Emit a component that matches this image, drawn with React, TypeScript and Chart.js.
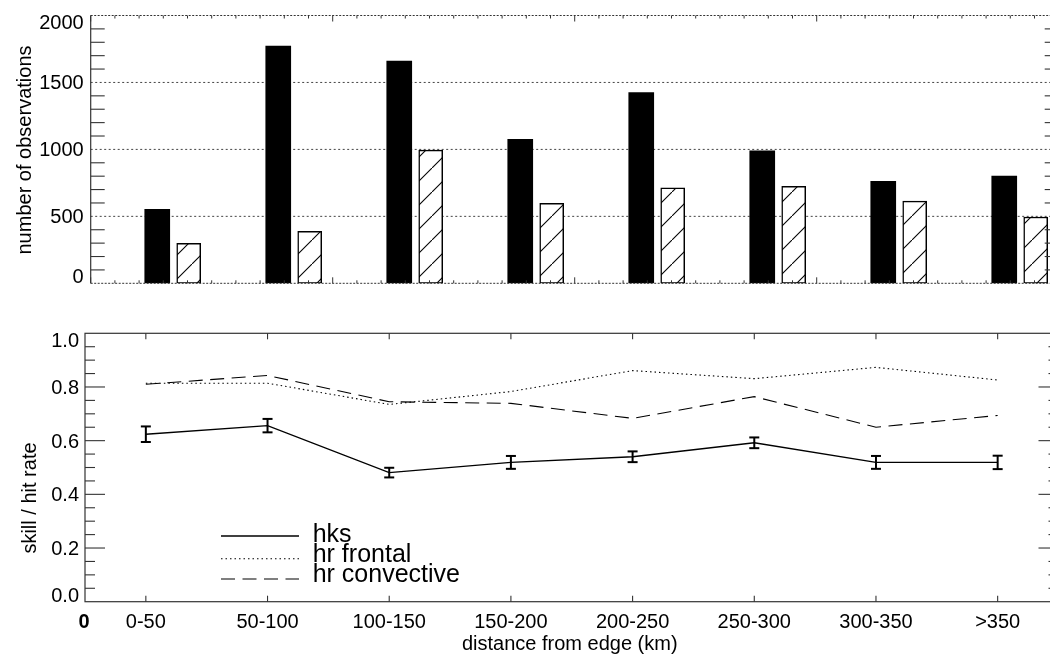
import React, { useEffect, useRef } from "react";
import { Chart, registerables } from "chart.js";

Chart.register(...registerables);

// ---------- data ----------
const categories = ["0-50", "50-100", "100-150", "150-200", "200-250", "250-300", "300-350", ">350"];
const obsTotal = [552, 1771, 1659, 1075, 1425, 990, 761, 801];
const obsHatched = [298, 388, 995, 597, 713, 724, 614, 495];
const obsTicks = [0, 500, 1000, 1500, 2000];

const hks = [0.624, 0.656, 0.481, 0.519, 0.54, 0.592, 0.519, 0.519];
const hksErr = [0.029, 0.025, 0.018, 0.024, 0.02, 0.02, 0.024, 0.025];
const hrFrontal = [0.814, 0.814, 0.735, 0.783, 0.861, 0.831, 0.873, 0.826];
const hrConvective = [0.81, 0.843, 0.745, 0.739, 0.683, 0.764, 0.65, 0.694];
const skillTicks = [0, 0.2, 0.4, 0.6, 0.8, 1.0];
const legendLabels = ["hks", "hr frontal", "hr convective"];

// ---------- style ----------
const FONT = '"Liberation Sans", Arial, Helvetica, sans-serif';
const AXIS = "#333";
const DOTTED = [1.5, 3];
const DASHED = [14, 7.5];

function makeHatch(): CanvasPattern | string {
  const c = document.createElement("canvas");
  c.width = 24;
  c.height = 24;
  const g = c.getContext("2d");
  if (!g) return "#fff";
  g.fillStyle = "#fff";
  g.fillRect(0, 0, 24, 24);
  g.strokeStyle = "#000";
  g.lineWidth = 1.1;
  g.beginPath();
  g.moveTo(-2, 26);
  g.lineTo(26, -2);
  g.stroke();
  return g.createPattern(c, "repeat") || "#fff";
}

function seg(ctx: CanvasRenderingContext2D, x1: number, y1: number, x2: number, y2: number) {
  ctx.beginPath();
  ctx.moveTo(x1, y1);
  ctx.lineTo(x2, y2);
  ctx.stroke();
}

function yLabel(
  ctx: CanvasRenderingContext2D,
  text: string,
  x: number,
  py: number,
  top: number,
  bottom: number,
  size: number
) {
  ctx.font = `${size}px ${FONT}`;
  ctx.textAlign = "right";
  ctx.textBaseline = "alphabetic";
  const cap = size * 0.69;
  let base = py + cap / 2;
  if (base - cap < top) base = top + cap;
  if (base > bottom) base = bottom;
  ctx.fillText(text, x, base);
}

function rotatedTitle(ctx: CanvasRenderingContext2D, text: string, x: number, y: number, size: number) {
  ctx.save();
  ctx.translate(x, y);
  ctx.rotate(-Math.PI / 2);
  ctx.font = `${size}px ${FONT}`;
  ctx.textAlign = "center";
  ctx.textBaseline = "alphabetic";
  ctx.fillStyle = "#000";
  ctx.fillText(text, 0, 0);
  ctx.restore();
}

// ---------- top panel plugin ----------
const topAxesPlugin = {
  id: "topAxes",
  beforeDatasetsDraw(chart: any) {
    const { ctx, chartArea: a, scales } = chart;
    const y = scales.y;
    ctx.save();
    ctx.strokeStyle = "#444";
    ctx.lineWidth = 1;
    ctx.setLineDash([2, 2.5]);
    for (const v of obsTicks) {
      if (v === obsTicks[0] || v === obsTicks[obsTicks.length - 1]) continue;
      const py = y.getPixelForValue(v);
      seg(ctx, a.left, py, a.right, py);
    }
    ctx.restore();
  },
  afterDatasetsDraw(chart: any) {
    const { ctx, chartArea: a, scales } = chart;
    const x = scales.x;
    const y = scales.y;
    ctx.save();
    // dotted top and bottom borders
    ctx.strokeStyle = AXIS;
    ctx.lineWidth = 1;
    ctx.setLineDash([2, 1.5]);
    seg(ctx, a.left, a.top, a.right, a.top);
    seg(ctx, a.left, a.bottom, a.right, a.bottom);
    ctx.setLineDash([]);
    // left / right axes
    ctx.lineWidth = 1.2;
    seg(ctx, a.left, a.top, a.left, a.bottom);
    seg(ctx, a.right, a.top, a.right, a.bottom);
    // y ticks every 100
    ctx.lineWidth = 1.1;
    const ymax = obsTicks[obsTicks.length - 1];
    for (let v = 100; v < ymax; v += 100) {
      if (v % 500 === 0) continue;
      const py = y.getPixelForValue(v);
      seg(ctx, a.left, py, a.left + 14, py);
      seg(ctx, a.right - 14, py, a.right, py);
    }
    // x ticks: major every 2, minor every 0.2
    ctx.lineWidth = 1;
    for (let k = 0; k <= 40; k++) {
      const px = x.getPixelForValue(k * 0.2);
      const len = k % 10 === 0 ? 6 : 3;
      seg(ctx, px, a.top, px, a.top + len);
      seg(ctx, px, a.bottom, px, a.bottom - len);
    }
    // labels
    ctx.fillStyle = "#000";
    for (const v of obsTicks) {
      yLabel(ctx, String(v), a.left - 7, y.getPixelForValue(v), a.top, a.bottom, 20);
    }
    rotatedTitle(ctx, "number of observations", 31, 150, 20);
    ctx.restore();
  },
};

// ---------- bottom panel plugin ----------
const bottomAxesPlugin = {
  id: "bottomAxes",
  afterDatasetsDraw(chart: any) {
    const { ctx, chartArea: a, scales } = chart;
    const x = scales.x;
    const y = scales.y;
    ctx.save();
    // error bars on hks
    ctx.strokeStyle = "#000";
    ctx.lineWidth = 2;
    for (let i = 0; i < hks.length; i++) {
      const px = x.getPixelForValue(i + 1);
      const pt = y.getPixelForValue(hks[i] + hksErr[i]);
      const pb = y.getPixelForValue(hks[i] - hksErr[i]);
      seg(ctx, px, pt, px, pb);
      seg(ctx, px - 5, pt, px + 5, pt);
      seg(ctx, px - 5, pb, px + 5, pb);
    }
    // frame
    ctx.strokeStyle = AXIS;
    ctx.lineWidth = 1.2;
    ctx.strokeRect(a.left, a.top, a.right - a.left, a.bottom - a.top);
    // y ticks every 0.05, major 0.2
    ctx.lineWidth = 1.1;
    for (let k = 1; k < 20; k++) {
      const py = y.getPixelForValue(k * 0.05);
      const len = k % 4 === 0 ? 20 : 10;
      seg(ctx, a.left, py, a.left + len, py);
      seg(ctx, a.right - len, py, a.right, py);
    }
    // x ticks at categories
    for (let i = 0; i < categories.length; i++) {
      const px = x.getPixelForValue(i + 1);
      seg(ctx, px, a.top, px, a.top + 6);
      seg(ctx, px, a.bottom, px, a.bottom - 6);
    }
    // y labels
    ctx.fillStyle = "#000";
    for (const v of skillTicks) {
      yLabel(ctx, v.toFixed(1), a.left - 6, y.getPixelForValue(v), a.top, a.bottom, 20);
    }
    // x labels
    ctx.font = `20px ${FONT}`;
    ctx.textAlign = "center";
    ctx.textBaseline = "alphabetic";
    const labBase = a.bottom + 26.5;
    for (let i = 0; i < categories.length; i++) {
      ctx.fillText(categories[i], x.getPixelForValue(i + 1), labBase);
    }
    ctx.font = `bold 20px ${FONT}`;
    ctx.fillText("0", a.left - 1, labBase);
    ctx.font = `20px ${FONT}`;
    ctx.fillText("distance from edge (km)", (a.left + a.right) / 2 - 2, a.bottom + 48);
    rotatedTitle(ctx, "skill / hit rate", 36, 198, 20);

    // legend
    const lx1 = a.left + 136;
    const lx2 = a.left + 214;
    const rows = [a.top + 202.7, a.top + 225.4, a.top + 245.7];
    const dashes = [[], DOTTED, DASHED];
    ctx.strokeStyle = "#000";
    for (let r = 0; r < 3; r++) {
      ctx.lineWidth = r === 0 ? 1.3 : 1.1;
      ctx.setLineDash(dashes[r]);
      seg(ctx, lx1, rows[r], lx2, rows[r]);
    }
    ctx.setLineDash([]);
    ctx.font = `25px ${FONT}`;
    ctx.textAlign = "left";
    const tx = a.left + 227.7;
    const bases = [a.top + 208.4, a.top + 228.7, a.top + 248.7];
    for (let r = 0; r < 3; r++) {
      ctx.fillText(legendLabels[r], tx, bases[r]);
    }
    ctx.restore();
  },
};

export default function App() {
  const topRef = useRef<HTMLCanvasElement>(null);
  const botRef = useRef<HTMLCanvasElement>(null);

  useEffect(() => {
    const hatch = makeHatch();
    const topChart = new Chart(topRef.current as HTMLCanvasElement, {
      type: "bar",
      data: {
        datasets: [
          {
            label: "total",
            data: obsTotal.map((v, i) => ({ x: i + 0.55, y: v })),
            backgroundColor: "#000",
            borderColor: "#000",
            borderWidth: 0,
            barThickness: 25,
            grouped: false,
          } as any,
          {
            label: "hatched",
            data: obsHatched.map((v, i) => ({ x: i + 0.81, y: v })),
            backgroundColor: hatch as any,
            borderColor: "#000",
            borderWidth: 1.5,
            borderSkipped: false,
            barThickness: 24,
            grouped: false,
          } as any,
        ],
      },
      options: {
        animation: false,
        responsive: false,
        devicePixelRatio: 1,
        layout: { padding: { left: 90.7, right: 1070 - 1058.7, top: 15.5, bottom: 300 - 283.3 } },
        plugins: { legend: { display: false }, tooltip: { enabled: false }, title: { display: false } },
        scales: {
          x: { type: "linear", min: 0, max: 8, offset: false, display: false },
          y: { type: "linear", min: 0, max: obsTicks[obsTicks.length - 1], display: false },
        },
      } as any,
      plugins: [topAxesPlugin],
    });

    const lineData = (arr: number[]) => arr.map((v, i) => ({ x: i + 1, y: v }));
    const botChart = new Chart(botRef.current as HTMLCanvasElement, {
      type: "line",
      data: {
        datasets: [
          {
            label: legendLabels[0],
            data: lineData(hks),
            borderColor: "#000",
            borderWidth: 1.4,
            pointRadius: 0,
            tension: 0,
            fill: false,
          },
          {
            label: legendLabels[1],
            data: lineData(hrFrontal),
            borderColor: "#000",
            borderWidth: 1.1,
            borderDash: DOTTED,
            pointRadius: 0,
            tension: 0,
            fill: false,
          },
          {
            label: legendLabels[2],
            data: lineData(hrConvective),
            borderColor: "#000",
            borderWidth: 1.1,
            borderDash: DASHED,
            pointRadius: 0,
            tension: 0,
            fill: false,
          },
        ],
      },
      options: {
        animation: false,
        responsive: false,
        devicePixelRatio: 1,
        layout: { padding: { left: 85, right: 1070 - 1058.5, top: 33.3, bottom: 355 - 301.7 } },
        plugins: { legend: { display: false }, tooltip: { enabled: false }, title: { display: false } },
        scales: {
          x: { type: "linear", min: 0.5, max: categories.length + 0.5, offset: false, display: false },
          y: { type: "linear", min: 0, max: 1, display: false },
        },
      } as any,
      plugins: [bottomAxesPlugin],
    });

    return () => {
      topChart.destroy();
      botChart.destroy();
    };
  }, []);

  return (
    <div
      style={{
        position: "absolute",
        left: 0,
        top: 0,
        width: 1050,
        height: 655,
        overflow: "hidden",
        background: "#fff",
      }}
    >
      <canvas
        ref={topRef}
        width={1070}
        height={300}
        style={{ position: "absolute", left: 0, top: 0, width: 1070, height: 300 }}
      />
      <canvas
        ref={botRef}
        width={1070}
        height={355}
        style={{ position: "absolute", left: 0, top: 300, width: 1070, height: 355 }}
      />
    </div>
  );
}
